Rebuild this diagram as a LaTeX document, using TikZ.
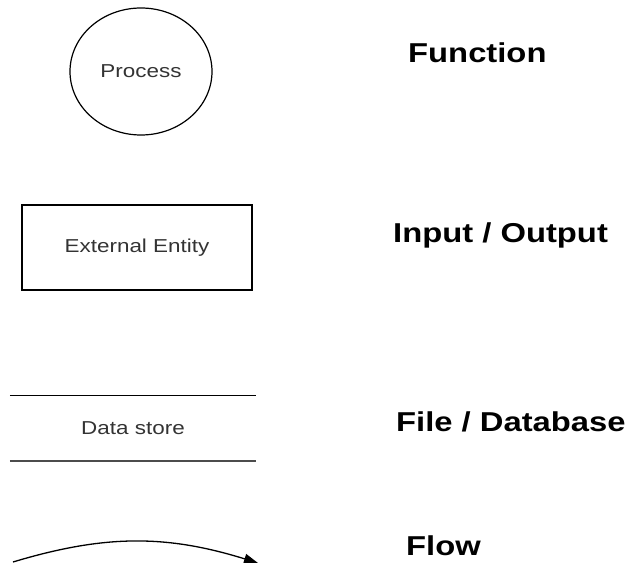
\documentclass[tikz,border=0pt]{standalone}
\usepackage{fontspec}
\setmainfont{Liberation Sans}[FakeStretch=1.2]
\usetikzlibrary{shapes.geometric,arrows.meta}

\begin{document}
\begin{tikzpicture}[x=1pt, y=1pt,
    sym/.style={font=\fontsize{18.7}{20}\selectfont, text=black!80, inner sep=0pt},
    caption/.style={font=\fontsize{27.3}{30}\selectfont\bfseries, anchor=base west, inner sep=0pt}]
\useasboundingbox (0,0) rectangle (634,562);
\clip (0,0) rectangle (634,562);
\node[sym, draw, line width=1.2pt, ellipse, minimum width=142, minimum height=127] (proc) at (141,490.5) {Process};
\node[sym, draw, line width=1.4pt, minimum width=230, minimum height=85] (ext) at (137,314.5) {External Entity};
\node[sym, minimum width=246, minimum height=65] (store) at (133,133.5) {Data store};
\draw[line width=1.3pt] (store.north west) -- (store.north east);
\draw[line width=1.5pt, black!70] (store.south west) -- (store.south east);
\node[caption] (func) at (408,499) {Function};
\node[caption] (io) at (393,319) {Input / Output};
\node[caption] (file) at (396,130) {File / Database};
\node[caption] (flow) at (406,7) {Flow};
\coordinate (from) at (13,0);
\coordinate (to) at (258,-1);
\draw[line width=1.3pt, -{Triangle[length=14pt, width=10pt]}] (from) to[bend left=17] (to);
\end{tikzpicture}
\end{document}
